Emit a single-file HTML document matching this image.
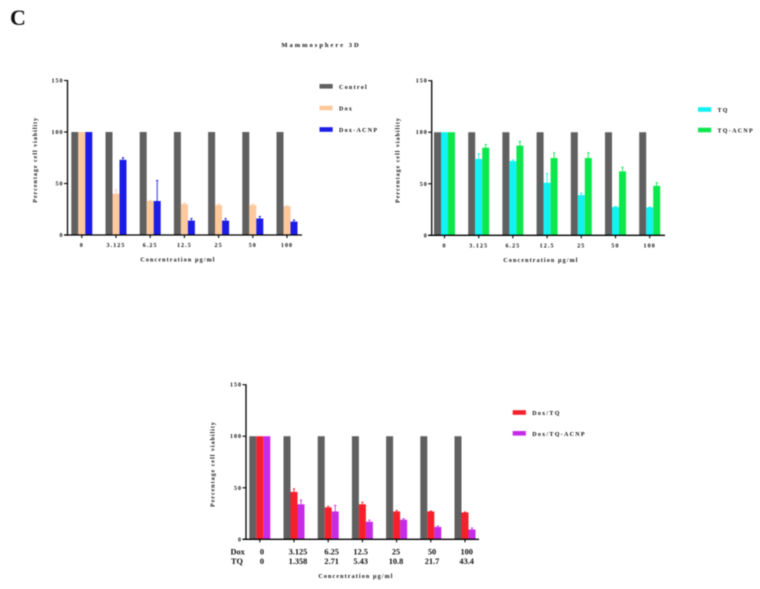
<!DOCTYPE html>
<html lang="en">
<head>
<meta charset="utf-8">
<title>Mammosphere 3D</title>
<style>
html,body{margin:0;padding:0;background:#fff;width:760px;height:589px;overflow:hidden}
svg{display:block;filter:blur(0.45px)}
text{font-family:"Liberation Serif",serif;font-weight:bold;fill:#111}
</style>
</head>
<body>
<svg id="figure" xmlns="http://www.w3.org/2000/svg" width="760" height="589" viewBox="0 0 760 589">
  <rect x="0" y="0" width="760" height="589" fill="#fff"></rect>
  <text x="10" y="25" style="font-size:22px">C</text>
  <text x="321" y="47" text-anchor="middle" style="font-size:6.5px;letter-spacing:2px">Mammosphere 3D</text>
</svg>
<script>
const yTicks = [0, 50, 100, 150];
const concentrations = ['0', '3.125', '6.25', '12.5', '25', '50', '100'];
const doseDox = ['0', '3.125', '6.25', '12.5', '25', '50', '100'];
const doseTQ = ['0', '1.358', '2.71', '5.43', '10.8', '21.7', '43.4'];

const controlValues = [100, 100, 100, 100, 100, 100, 100];
const doxValues = [100, 40, 33, 30, 29, 29, 28];
const doxErrors = [0, 4, 0.5, 1, 1, 1, 0.5];
const doxAcnpValues = [100, 73, 33, 14, 14, 16, 13];
const doxAcnpErrors = [0, 2, 20, 2, 2, 2, 1.5];
const tqValues = [100, 74, 72, 51, 39, 27.5, 27];
const tqErrors = [0, 5, 1, 9, 2, 0.5, 0.5];
const tqAcnpValues = [100, 85, 87, 75, 75, 62, 48];
const tqAcnpErrors = [0, 3, 4, 5, 5, 4, 3];
const doxTqValues = [100, 46, 31, 34, 27, 27, 26];
const doxTqErrors = [0, 3, 1, 2, 1, 0.5, 0.5];
const doxTqAcnpValues = [100, 34, 27, 17, 19, 12, 9.5];
const doxTqAcnpErrors = [0, 4, 6, 1.5, 1, 1, 1.5];

const GREY = '#606060', PEACH = '#fdc89c', BLUE = '#1c1ce6', CYAN = '#12f2f2',
      GREEN = '#0ce84c', RED = '#f6202c', PURPLE = '#c62ce8';
const NS = 'http://www.w3.org/2000/svg';
const figure = document.getElementById('figure');

function shape(parent, tag, props, text) {
  const el = document.createElementNS(NS, tag);
  for (const k in props) el.setAttribute(k, props[k]);
  if (text !== undefined) el.textContent = text;
  parent.appendChild(el);
  return el;
}
function slug(s) {
  return s.toLowerCase().replace(/[^a-z0-9]+/g, '-');
}

function drawChart(cfg) {
  const g = shape(figure, 'g', {});
  
  

  const y = v => cfg.y0 - v * (cfg.y0 - cfg.y150) / 150;
  const groupLeft = i => cfg.barStart + i * 34.2;
  const barW = 7;

  // bars
  cfg.series.forEach((s, si) => {
    s.values.forEach((v, i) => {
      const x = groupLeft(i) + si * barW;
      const bar = shape(g, 'rect', {x: x, y: y(v), width: barW, height: cfg.y0 - y(v), fill: s.color});
      
      
      const e = s.errors ? s.errors[i] : 0;
      if (e > 0) {
        const cx = x + barW / 2;
        const err = shape(g, 'path', {
          d: 'M' + cx + ' ' + y(v) + 'V' + y(v + e) + 'M' + (cx - 1.2) + ' ' + y(v + e) + 'H' + (cx + 1.2),
          stroke: s.color, 'stroke-width': 0.9, fill: 'none'
        });
        
        
      }
    });
  });

  // axes
  const yAxis = shape(g, 'line', {x1: cfg.axisX, x2: cfg.axisX, y1: y(150) - 0.5, y2: cfg.y0 + 0.6, stroke: '#000', 'stroke-width': 1.3});
  
  
  const xAxis = shape(g, 'line', {x1: cfg.axisX - 3.5, x2: cfg.axisEnd, y1: cfg.y0, y2: cfg.y0, stroke: '#000', 'stroke-width': 1.3});
  
  

  yTicks.forEach(t => {
    const tick = shape(g, 'line', {x1: cfg.axisX - 3.5, x2: cfg.axisX, y1: y(t), y2: y(t), stroke: '#000', 'stroke-width': 1.1});
    
    
    const lab = shape(g, 'text', {x: cfg.axisX - 4, y: y(t) + 2, 'text-anchor': 'end', style: 'font-size:6px;letter-spacing:1px'}, String(t));
    
    
  });

  concentrations.forEach((c, i) => {
    const cx = groupLeft(i) + 10.5;
    const tick = shape(g, 'line', {x1: cx, x2: cx, y1: cfg.y0, y2: cfg.y0 + 3, stroke: '#000', 'stroke-width': 1.1});
    
    
    if (!cfg.doseLabels) {
      const lab = shape(g, 'text', {x: cx, y: cfg.y0 + 12, 'text-anchor': 'middle', style: 'font-size:6px;letter-spacing:1.1px'}, c);
      
      
    }
  });

  if (cfg.doseLabels) {
    cfg.doseLabels.forEach((xc, i) => {
      const d = shape(g, 'text', {x: xc, y: cfg.y0 + 15, 'text-anchor': 'middle', style: 'font-size:8.3px'}, doseDox[i]);
      
      
      const q = shape(g, 'text', {x: xc, y: cfg.y0 + 24.5, 'text-anchor': 'middle', style: 'font-size:8.3px'}, doseTQ[i]);
      
      
    });
    const dl = shape(g, 'text', {x: 237.7, y: cfg.y0 + 15, 'text-anchor': 'middle', style: 'font-size:8.3px'}, 'Dox');
    
    
    const ql = shape(g, 'text', {x: 237, y: cfg.y0 + 24.5, 'text-anchor': 'middle', style: 'font-size:8.3px'}, 'TQ');
    
    
  }

  // titles
  const xTitle = shape(g, 'text', {x: cfg.xTitleX, y: cfg.xTitleY, 'text-anchor': 'middle', style: 'font-size:6px;letter-spacing:1.15px'}, 'Concentration \u00b5g/ml');
  
  
  const yTitle = shape(g, 'text', {
    x: 0, y: 0, 'text-anchor': 'middle', style: 'font-size:6px;letter-spacing:1px',
    transform: 'translate(' + cfg.yTitleX + ' ' + (y(75) + 2) + ') rotate(-90)'
  }, 'Percentage cell viability');
  
  

  // legend
  cfg.legend.forEach(item => {
    const entry = shape(g, 'g', {});
    
    
    const sw = shape(entry, 'rect', {x: cfg.legendX, y: item.y - 2.3, width: 13.2, height: 4.6, fill: item.color});
    
    
    const tx = shape(entry, 'text', {x: cfg.legendX + 19.5, y: item.y + 2.5, style: 'font-size:6px;letter-spacing:1.3px'}, item.label);
    
    
  });
}

drawChart({
  name: 'chart-dox', axisX: 67.5, axisEnd: 302, y0: 235, y150: 80.5, barStart: 71.3,
  xTitleX: 178, xTitleY: 261.5, yTitleX: 37,
  series: [
    {label: 'Control', values: controlValues, color: GREY},
    {label: 'Dox', values: doxValues, errors: doxErrors, color: PEACH},
    {label: 'Dox-ACNP', values: doxAcnpValues, errors: doxAcnpErrors, color: BLUE}
  ],
  legendX: 319.5,
  legend: [
    {label: 'Control', color: GREY, y: 86.3},
    {label: 'Dox', color: PEACH, y: 108},
    {label: 'Dox-ACNP', color: BLUE, y: 129.5}
  ]
});

drawChart({
  name: 'chart-tq', axisX: 431.7, axisEnd: 665, y0: 235.3, y150: 80.7, barStart: 434,
  xTitleX: 541, xTitleY: 262, yTitleX: 399.5,
  series: [
    {label: 'Control', values: controlValues, color: GREY},
    {label: 'TQ', values: tqValues, errors: tqErrors, color: CYAN},
    {label: 'TQ-ACNP', values: tqAcnpValues, errors: tqAcnpErrors, color: GREEN}
  ],
  legendX: 698,
  legend: [
    {label: 'TQ', color: CYAN, y: 109.5},
    {label: 'TQ-ACNP', color: GREEN, y: 130}
  ]
});

drawChart({
  name: 'chart-dox-tq', axisX: 246, axisEnd: 479, y0: 539.3, y150: 384.7, barStart: 249.3,
  xTitleX: 356, xTitleY: 578, yTitleX: 214.5,
  doseLabels: [262, 298, 331.7, 360.7, 396, 432, 466.7],
  series: [
    {label: 'Control', values: controlValues, color: GREY},
    {label: 'Dox/TQ', values: doxTqValues, errors: doxTqErrors, color: RED},
    {label: 'Dox/TQ-ACNP', values: doxTqAcnpValues, errors: doxTqAcnpErrors, color: PURPLE}
  ],
  legendX: 512.7,
  legend: [
    {label: 'Dox/TQ', color: RED, y: 412.5},
    {label: 'Dox/TQ-ACNP', color: PURPLE, y: 433.3}
  ]
});
</script>
</body>
</html>
